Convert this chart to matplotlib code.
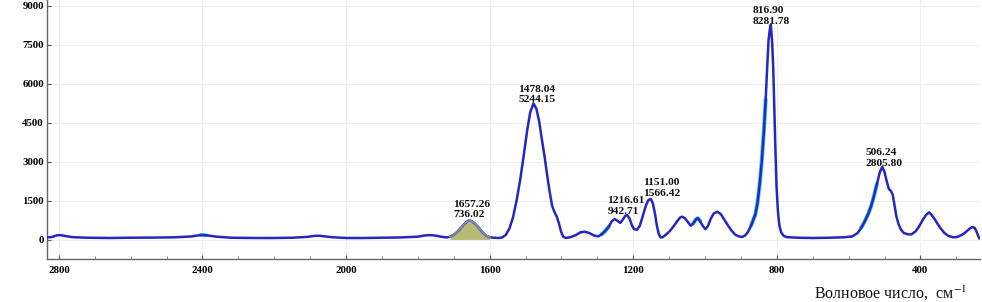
import matplotlib
matplotlib.use("Agg")
import matplotlib.pyplot as plt
import numpy as np

# ---- data ----
wavenumber = [
    2834, 2820, 2805, 2795, 2780, 2760, 2720, 2660, 2600, 2540, 2480, 2430, 2405, 2390,
    2360, 2320, 2260, 2200, 2150, 2110, 2085, 2070, 2040, 2000, 1950, 1900, 1850, 1800,
    1780, 1765, 1750, 1735, 1720,
    1710, 1700, 1690, 1680, 1670, 1660, 1657.26, 1650, 1640, 1630, 1620, 1610, 1600, 1590,
    1575, 1565, 1555, 1545, 1535, 1525, 1515, 1505, 1495, 1487, 1478.04, 1470, 1462, 1455,
    1447, 1440, 1433, 1426, 1420, 1413, 1407, 1401, 1395, 1388, 1375, 1360, 1347, 1335,
    1322, 1310, 1298, 1288, 1278, 1268, 1260, 1252, 1244, 1236, 1228, 1222, 1216.61, 1210,
    1204, 1198, 1190, 1182, 1174, 1165, 1158, 1151.00, 1145, 1139, 1134, 1129, 1124, 1118,
    1108, 1098, 1088, 1078, 1070, 1064, 1057, 1048, 1040, 1033, 1025, 1020, 1014, 1006,
    999, 992, 984, 976, 966, 956, 946, 936, 926, 916, 906, 896, 888, 880, 872, 866, 860,
    854, 848, 842, 836, 831, 827, 823, 819, 816.90, 813, 810, 807, 804, 801, 797, 793, 788,
    781, 771, 740, 700, 650, 610, 590, 575, 565, 555, 545, 537, 529, 521, 513, 506.24, 500,
    494, 488, 482, 477, 472, 467, 461, 455, 447, 435, 425, 413, 403, 393, 384, 376, 369,
    360, 352, 343, 333, 322, 310, 300, 290, 280, 270, 262, 255, 249, 244, 240, 236,
]
intensity = [
    80, 95, 165, 170, 130, 90, 70, 60, 70, 75, 85, 120, 175, 165,
    110, 70, 60, 60, 70, 100, 145, 140, 90, 60, 60, 70, 80, 110,
    160, 170, 150, 110, 80,
    110, 180, 300, 450, 610, 720, 736.02, 710, 600, 450, 280, 150, 90, 70,
    60, 80, 180, 420, 850, 1500, 2300, 3250, 4250, 4900, 5244.15, 5050, 4550, 3900,
    3200, 2500, 1850, 1300, 1080, 880, 620, 300, 110, 60, 90, 170, 280, 300,
    250, 160, 120, 200, 330, 500, 700, 790, 720, 640, 790, 920, 942.71, 800,
    560, 400, 380, 520, 880, 1300, 1520, 1566.42, 1380, 960, 520, 220, 80, 90,
    200, 330, 500, 700, 840, 880, 830, 680, 530, 620, 780, 820, 720, 520,
    400, 520, 800, 1000, 1072, 980, 760, 540, 340, 190, 120, 100, 160, 300, 530, 740, 960,
    1400, 2100, 3000, 4200, 5400, 6600, 7700, 8150, 8281.78, 7600, 6600, 5000, 3500, 2100, 1100, 550, 280,
    140, 90, 70, 60, 70, 90, 120, 250, 450, 700, 1000, 1300, 1700, 2150, 2600, 2805.80, 2600,
    2250, 1950, 1870, 1720, 1300, 900, 600, 400, 260, 200, 200, 320, 520, 770, 950, 1050, 950,
    780, 600, 420, 250, 140, 90, 90, 140, 220, 330, 430, 480, 450, 320, 170, 50,
]
peak_wn = [1657.26, 1478.04, 1216.61, 1151.00, 816.90, 506.24]
peak_val = [736.02, 5244.15, 942.71, 1566.42, 8281.78, 2805.80]
peak_labels = ["1657.26\n736.02", "1478.04\n5244.15", "1216.61\n942.71",
               "1151.00\n1566.42", "816.90\n8281.78", "506.24\n2805.80"]
x_ticks = [2800, 2400, 2000, 1600, 1200, 800, 400]
y_ticks = [0, 1500, 3000, 4500, 6000, 7500, 9000]
x_label = "Волновое число,  см$^{-1}$"

# label offsets in pixels (style, not data)
label_dx = [-16, -15, -20, -8, -18, -17]
label_dy = [3, 1, 1, 3, 1, 1]

wn = np.array(wavenumber, dtype=float)
iv = np.array(intensity, dtype=float)

plt.rcParams["mathtext.fontset"] = "stix"
serif = ["Liberation Serif", "DejaVu Serif"]

fig = plt.figure(figsize=(9.82, 3.02), dpi=100)
W, H = 982, 302
ax = fig.add_axes([46.7 / W, (H - 259) / H, (980 - 46.7) / W, 259 / H])

ax.set_xlim(2834, 234)
ax.set_ylim(-750, 9231)

ax.grid(True, color="#efefef", lw=0.8, zorder=0)

# filled band 1657
band = (wn <= 1715) & (wn >= 1595)
ax.fill_between(wn[band], 0, iv[band], color="#b8ba78", lw=0, zorder=1)

# cyan segments beneath
for lo, hi in [(830, 872), (520, 570), (1262, 1292), (1014, 1034), (2388, 2412)]:
    m = (wn >= lo) & (wn <= hi)
    ax.plot(wn[m], iv[m], color="#40d0e0", lw=3.0, zorder=2, solid_capstyle="round")

ax.plot(wn, iv, color="#2626c0", lw=1.8, zorder=3)
ax.plot(wn[band], iv[band], color="#7a86aa", lw=1.6, zorder=4)

for x, y, t, dx, dy in zip(peak_wn, peak_val, peak_labels, label_dx, label_dy):
    ax.annotate(t, xy=(x, y), xytext=(dx, dy), textcoords="offset pixels",
                ha="left", va="baseline", fontsize=8.2, fontweight="bold",
                family=serif, linespacing=1.25, color="#111111", zorder=5)

ax.set_xticks(x_ticks)
ax.set_xticks(np.arange(300, 2834, 100), minor=True)
ax.set_yticks(y_ticks)
ax.tick_params(axis="both", which="major", direction="in", length=3, width=0.8,
               color="#555555", labelsize=7.8)
ax.tick_params(axis="x", which="minor", direction="in", length=2, width=0.6, color="#777777")
ax.tick_params(axis="x", pad=5)
ax.tick_params(axis="y", pad=2)
for lab in ax.get_xticklabels() + ax.get_yticklabels():
    lab.set_family(serif)
    lab.set_fontweight("bold")

for s in ["top", "right"]:
    ax.spines[s].set_visible(False)
for s in ["left", "bottom"]:
    ax.spines[s].set_color("#666666")
    ax.spines[s].set_linewidth(1.0)

fig.text(967 / W, (H - 299) / H, x_label, ha="right", va="baseline",
         fontsize=11.5, family=serif, color="#111111")

fig.savefig("out.png", dpi=100)
